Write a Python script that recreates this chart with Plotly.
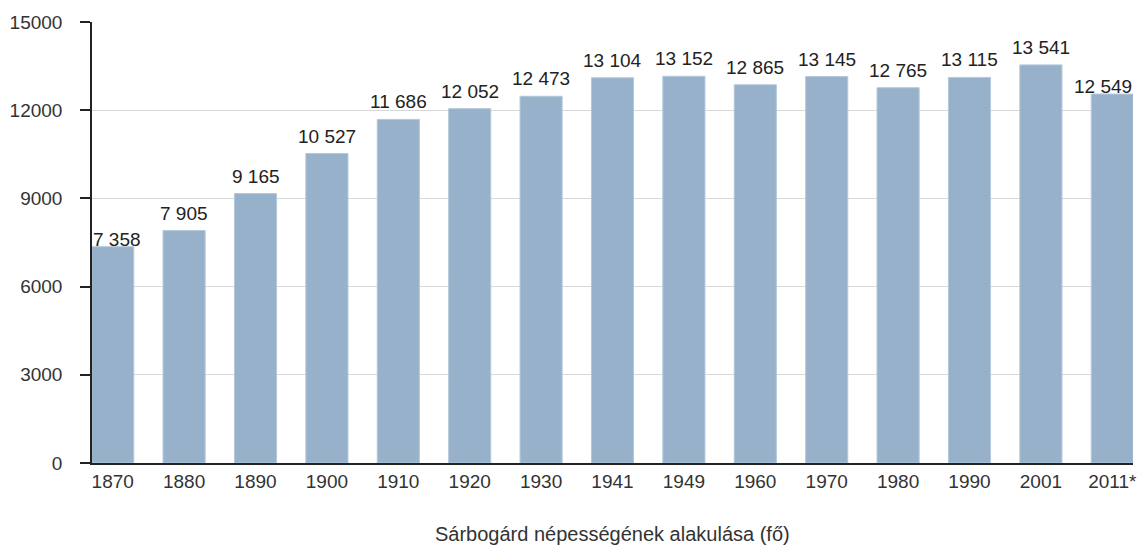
import plotly.graph_objects as go

years = ["1870", "1880", "1890", "1900", "1910", "1920", "1930", "1941",
         "1949", "1960", "1970", "1980", "1990", "2001", "2011*"]
population = [7358, 7905, 9165, 10527, 11686, 12052, 12473, 13104,
              13152, 12865, 13145, 12765, 13115, 13541, 12549]
y_ticks = [0, 3000, 6000, 9000, 12000, 15000]
title_text = "Sárbogárd népességének alakulása (fő)"

labels = [f"{v:,}".replace(",", " ") for v in population]

FONT = "Liberation Sans, Arial, sans-serif"

fig = go.Figure(go.Bar(
    x=years, y=population,
    marker=dict(color="#98b1ca", line=dict(color="#b4c8dc", width=1)),
    width=0.59, hoverinfo="x+y",
))

# value labels: placed at each category's index on the category axis;
# the first and last labels are nudged to stay inside the plot edges
last = len(years) - 1
label_annotations = []
for i, (val, lab) in enumerate(zip(population, labels)):
    edge = i in (0, last)
    label_annotations.append(dict(
        x=i, y=val, xref="x", yref="y", text=lab, showarrow=False,
        xanchor="center", yanchor="bottom",
        yshift=-5 if edge else 5,
        xshift=4 if i == 0 else (-9 if i == last else 0),
        font=dict(family=FONT, size=19, color="#222222"),
    ))

fig.update_layout(
    width=1139, height=548,
    margin=dict(l=92, r=6, t=22, b=85),
    plot_bgcolor="white", paper_bgcolor="white",
    showlegend=False,
    font=dict(family=FONT, size=19, color="#333333"),
    xaxis=dict(type="category", range=[-0.29, 14.29], showgrid=False,
               automargin=False,
               showline=True, linecolor="#222222", linewidth=1.5,
               ticks="", tickfont=dict(size=19, color="#333333")),
    yaxis=dict(range=[0, 15000], tickvals=y_ticks, tickformat="d",
               automargin=False,
               showgrid=True, gridcolor="#d8d8d8", gridwidth=1.2,
               zeroline=False, showline=True, linecolor="#222222",
               linewidth=1.5, ticks="outside", ticklen=10,
               tickcolor="#222222", tickwidth=1.5, ticklabelstandoff=14,
               tickfont=dict(size=19, color="#333333")),
    annotations=label_annotations + [dict(
        text=title_text, x=0.5, xref="paper",
        xanchor="center", y=-0.161, yref="paper",
        yanchor="middle", showarrow=False,
        font=dict(family=FONT, size=20, color="#333333"))],
)

fig.write_html(
    "out.html",
    config={"displayModeBar": False},
    post_script="document.body.style.margin='0';document.body.style.overflow='hidden';",
)
